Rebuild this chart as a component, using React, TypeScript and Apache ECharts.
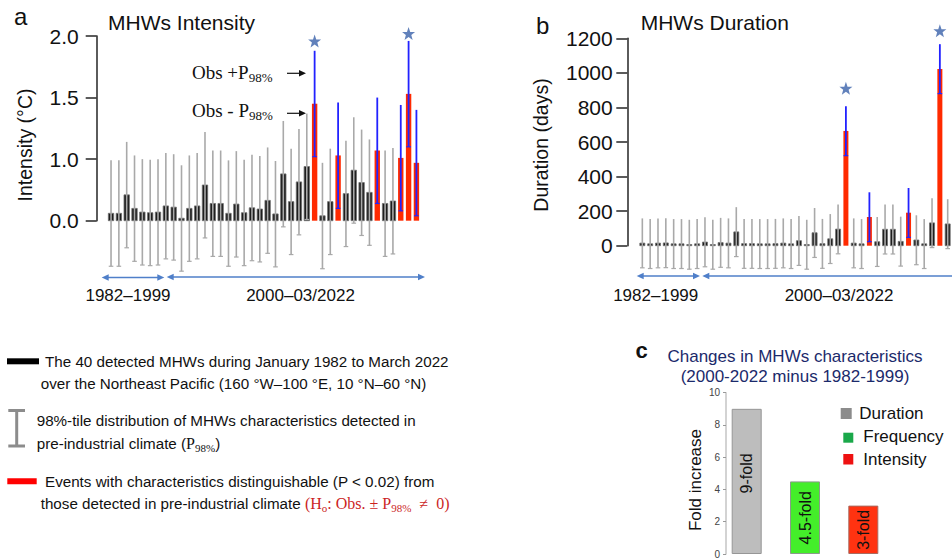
import React, { useEffect, useRef } from "react";
import * as echarts from "echarts";

// ---------- data ----------
const intensityValues = [
  0.56, 0.56, 0.71, 0.6, 0.57, 0.565, 0.57, 0.62, 0.61, 0.52,
  0.6, 0.62, 0.79, 0.64, 0.64, 0.56, 0.635, 0.565, 0.605, 0.595,
  0.665, 0.555, 0.88, 0.655, 0.815, 0.94, 1.45, 0.54, 0.655, 1.03,
  0.72, 0.91, 0.81, 0.73, 1.07, 0.64, 0.66, 1.01, 1.53, 0.97,
];
const intensitySignificant = [26, 29, 34, 37, 38, 39];
const intensityP98 = 0.43;
const intensityStarIdx = [26, 38];
const intensityStarVal = [1.96, 2.02];
const intensityTickValues = [0.5, 1.0, 1.5, 2.0];
const intensityTickLabels = ["0.0", "1.0", "1.5", "2.0"];

const durationValues = [
  15, 11, 15, 16, 11, 11, 7, 11, 21, 7,
  18, 15, 80, 12, 12, 11, 11, 12, 15, 11,
  29, 7, 75, 12, 40, 96, 664, 15, 11, 166,
  23, 95, 95, 25, 191, 33, 11, 132, 1023, 126,
];
const durationSignificant = [26, 29, 34, 38];
const durationP98 = 143;
const durationStarIdx = [26, 38];
const durationStarVal = [911, 1244];

const foldCategories = ["Duration", "Frequency", "Intensity"];
const foldValues = [9, 4.5, 3];
const foldLabels = ["9-fold", "4.5-fold", "3-fold"];
const periodLabels = ["1982–1999", "2000–03/2022"];

// ---------- styles ----------
const SANS = "'Liberation Sans', Arial, Helvetica, sans-serif";
const SERIF = "'Liberation Serif', 'Times New Roman', serif";
const RED = "#ff2a00";
const BLACK = "#1e1e1e";
const BLUE = "#2222ff";
const GRAY = "#a9a9a9";
const ARROW = "#4f7fc9";
const STAR = "path://M12 0 L15 9 L24 9 L17 14.5 L19.5 23.5 L12 18 L4.5 23.5 L7 14.5 L0 9 L9 9 Z";
const LEGEND_SIZE = 15.2;

const makeRender = (baseline: number, p: number, barW: number) => (params: any, api: any) => {
  const x = api.value(0);
  const v = api.value(1);
  const sig = api.value(2) === 1;
  const top = api.coord([x, v]);
  const base = api.coord([x, baseline]);
  const hi = api.coord([x, v + p]);
  const lo = api.coord([x, v - p]);
  const cx = top[0];
  const col = sig ? BLUE : GRAY;
  return {
    type: "group",
    children: [
      {
        type: "rect",
        shape: { x: cx - barW / 2, y: top[1], width: barW, height: base[1] - top[1] },
        style: sig ? { fill: RED } : { fill: BLACK, stroke: "#707070", lineWidth: 0.8 },
      },
      {
        type: "line",
        shape: { x1: cx, y1: hi[1], x2: cx, y2: lo[1] },
        style: { stroke: col, lineWidth: sig ? 1.8 : 1.6 },
      },
      {
        type: "line",
        shape: { x1: cx - 2.3, y1: lo[1], x2: cx + 2.3, y2: lo[1] },
        style: { stroke: col, lineWidth: 1.2 },
      },
    ],
  };
};

const txt = (x: number, y: number, text: string, size: number, extra: any = {}) => ({
  type: "text",
  x,
  y,
  rotation: extra.rotation || 0,
  style: {
    text,
    fill: extra.fill || "#111",
    fontFamily: extra.family || SANS,
    fontSize: size,
    fontWeight: extra.weight || "normal",
    align: extra.align || "left",
    verticalAlign: "middle",
    rich: extra.rich,
  },
});

const head = (x: number, y: number, dir: number, color: string) => ({
  type: "polygon",
  shape: { points: [[x, y], [x - dir * 7, y - 3.2], [x - dir * 7, y + 3.2]] },
  style: { fill: color },
});

const arrow = (x1: number, x2: number, y: number, hl: boolean, hr: boolean, color = ARROW, w = 1.3) => {
  const els: any[] = [
    { type: "line", shape: { x1: x1 + (hl ? 5 : 0), y1: y, x2: x2 - (hr ? 5 : 0), y2: y }, style: { stroke: color, lineWidth: w } },
  ];
  if (hl) els.push(head(x1, y, -1, color));
  if (hr) els.push(head(x2, y, 1, color));
  return els;
};

const subRich = (mainSize: number, subSize: number, family: string, color = "#111") => ({
  m: { fontSize: mainSize, fontFamily: family, fill: color, lineHeight: mainSize + 4, verticalAlign: "middle" },
  s: { fontSize: subSize, fontFamily: family, fill: color, lineHeight: subSize, verticalAlign: "bottom" },
  n: { fontSize: LEGEND_SIZE, fontFamily: SANS, fill: "#111", lineHeight: 20, verticalAlign: "middle" },
});

export default function App() {
  const ref = useRef<HTMLDivElement>(null);
  useEffect(() => {
    document.body.style.margin = "0";
    if (!ref.current) return;
    const chart = echarts.init(ref.current, undefined, { renderer: "svg" });

    const dataA = intensityValues.map((v, i) => [i, v, intensitySignificant.includes(i) ? 1 : 0]);
    const dataB = durationValues.map((v, i) => [i, v, durationSignificant.includes(i) ? 1 : 0]);
    const starsA = intensityStarIdx.map((i, k) => [i, intensityStarVal[k]]);
    const starsB = durationStarIdx.map((i, k) => [i, durationStarVal[k]]);
    const foldColors = [
      { color: "#bdbdbd", borderColor: "#969696" },
      { color: "#44ee2a", borderColor: "#8a9a8a" },
      { color: "#ff3311", borderColor: "#a86a60" },
    ];

    const yBase = {
      axisLine: { show: true, onZero: false, lineStyle: { color: "#333", width: 1.6 } },
      axisTick: { show: true, length: 11, lineStyle: { color: "#333", width: 1.6 } },
      splitLine: { show: false },
    };

    const graphic: any[] = [
      // panel letters and titles
      txt(14, 16, "a", 24),
      txt(108, 22.5, "MHWs Intensity", 21),
      txt(536, 25, "b", 24),
      txt(640.7, 22.5, "MHWs Duration", 21),
      // axis names
      txt(25, 145, "Intensity (°C)", 19.5, { rotation: Math.PI / 2, align: "center" }),
      txt(541, 145, "Duration (days)", 19.5, { rotation: Math.PI / 2, align: "center" }),
      txt(695, 480, "Fold increase", 17, { rotation: Math.PI / 2, align: "center" }),
      // Obs annotations
      txt(192, 72, "{m|Obs +P}{s|98%}", 19, { rich: subRich(19, 13, SERIF) }),
      txt(192, 110, "{m|Obs - P}{s|98%}", 19, { rich: subRich(19, 13, SERIF) }),
      ...arrow(287, 306, 73.3, false, true, "#111", 1.2),
      ...arrow(287, 306, 113.3, false, true, "#111", 1.2),
      // period arrows a
      ...arrow(101.7, 164.3, 277.5, true, true),
      ...arrow(166.7, 425, 277, true, true),
      txt(128, 295, periodLabels[0], 17, { align: "center" }),
      txt(300.5, 295, periodLabels[1], 17, { align: "center" }),
      // period arrows b
      ...arrow(636.7, 700, 276, true, true),
      ...arrow(702.3, 952, 276, true, false),
      txt(655.7, 295, periodLabels[0], 17, { align: "center" }),
      txt(839, 295, periodLabels[1], 17, { align: "center" }),
      // bottom-left legend
      { type: "rect", shape: { x: 7, y: 358.3, width: 32, height: 6 }, style: { fill: "#000" } },
      txt(45, 361.7, "The 40 detected MHWs during January 1982 to March 2022", LEGEND_SIZE),
      txt(40.7, 383.3, "over the Northeast Pacific (160 °W–100 °E, 10 °N–60 °N)", LEGEND_SIZE),
      { type: "line", shape: { x1: 16.7, y1: 409.5, x2: 16.7, y2: 447 }, style: { stroke: "#8c8c8c", lineWidth: 3 } },
      { type: "line", shape: { x1: 8.3, y1: 410.5, x2: 25, y2: 410.5 }, style: { stroke: "#8c8c8c", lineWidth: 3 } },
      { type: "line", shape: { x1: 8.3, y1: 446, x2: 25, y2: 446 }, style: { stroke: "#8c8c8c", lineWidth: 3 } },
      txt(36.7, 420.7, "98%-tile distribution of MHWs characteristics detected in", LEGEND_SIZE),
      txt(36.7, 443.3, "{n|pre-industrial climate (}{m|P}{s|98%}{n|)}", LEGEND_SIZE, { rich: subRich(16, 11, SERIF) }),
      { type: "rect", shape: { x: 7.3, y: 478.3, width: 29.4, height: 6 }, style: { fill: "#ff0000" } },
      txt(45, 481, "Events with characteristics distinguishable (P < 0.02) from", LEGEND_SIZE),
      txt(
        40.7,
        503.3,
        "{n|those detected in pre-industrial climate }{m|(H}{s|o}{m|: Obs. ± P}{s|98%}{m|  ≠  0)}",
        LEGEND_SIZE,
        { rich: subRich(16, 11, SERIF, "#cc1f1f") }
      ),
      // panel c
      txt(635.5, 350, "c", 22, { weight: "bold" }),
      txt(795, 356.7, "Changes in MHWs characteristics", 17, { align: "center", fill: "#1b2a6b" }),
      txt(795, 376.7, "(2000-2022 minus 1982-1999)", 17, { align: "center", fill: "#1b2a6b" }),
      { type: "rect", shape: { x: 840.7, y: 408, width: 11, height: 11 }, style: { fill: "#8c8c8c" } },
      txt(859.3, 413, foldCategories[0], 17),
      { type: "rect", shape: { x: 843.3, y: 432.7, width: 10, height: 10 }, style: { fill: "#1aa84a" } },
      txt(863.3, 436.5, foldCategories[1], 17),
      { type: "rect", shape: { x: 843.3, y: 454, width: 10, height: 10.5 }, style: { fill: "#ee1111" } },
      txt(863.3, 459, foldCategories[2], 17),
    ];

    chart.setOption({
      animation: false,
      grid: [
        { left: 96.7, top: 36, width: 329.9, height: 184.7 },
        { left: 627.3, top: 38.3, width: 324.7, height: 207.4 },
        { left: 726, top: 392.7, width: 172.3, height: 163 },
      ],
      xAxis: [
        { gridIndex: 0, type: "value", min: -1.83, max: 40.3, show: false },
        { gridIndex: 1, type: "value", min: -1.92, max: 39.55, show: false },
        { gridIndex: 2, type: "value", min: -0.355, max: 2.6, show: false },
      ],
      yAxis: [
        {
          gridIndex: 0,
          type: "value",
          min: 0.5,
          max: 2.0,
          interval: 0.5,
          ...yBase,
          axisLabel: {
            fontSize: 21,
            fontFamily: SANS,
            color: "#111",
            margin: 18,
            formatter: (v: number) => {
              const k = intensityTickValues.findIndex((t) => Math.abs(t - v) < 1e-6);
              return k >= 0 ? intensityTickLabels[k] : "";
            },
          },
        },
        {
          gridIndex: 1,
          type: "value",
          min: 0,
          max: 1200,
          interval: 200,
          ...yBase,
          axisLabel: {
            fontSize: 21,
            fontFamily: SANS,
            color: "#111",
            margin: 14.6,
            formatter: (v: number) => String(v),
          },
        },
        {
          gridIndex: 2,
          type: "value",
          min: 0,
          max: 10,
          interval: 2,
          axisLine: { show: true, onZero: false, lineStyle: { color: "#c4c4c4", width: 1.5 } },
          axisTick: { show: true, length: 3, lineStyle: { color: "#999", width: 1 } },
          splitLine: { show: false },
          axisLabel: { fontSize: 10, fontFamily: SANS, color: "#444", margin: 6 },
        },
      ],
      series: [
        {
          type: "custom",
          xAxisIndex: 0,
          yAxisIndex: 0,
          clip: false,
          encode: { x: 0, y: 1 },
          data: dataA,
          renderItem: makeRender(0.5, intensityP98, 5.4),
        },
        {
          type: "scatter",
          xAxisIndex: 0,
          yAxisIndex: 0,
          clip: false,
          symbol: STAR,
          symbolSize: 13,
          itemStyle: { color: "#3a62aa" },
          data: starsA,
        },
        {
          type: "custom",
          xAxisIndex: 1,
          yAxisIndex: 1,
          clip: false,
          encode: { x: 0, y: 1 },
          data: dataB,
          renderItem: makeRender(0, durationP98, 5),
        },
        {
          type: "scatter",
          xAxisIndex: 1,
          yAxisIndex: 1,
          clip: false,
          symbol: STAR,
          symbolSize: 13,
          itemStyle: { color: "#3a62aa" },
          data: starsB,
        },
        {
          type: "bar",
          xAxisIndex: 2,
          yAxisIndex: 2,
          barWidth: 30,
          data: foldValues.map((v, i) => ({
            value: [i, v],
            itemStyle: { ...foldColors[i], borderWidth: 1 },
            label: i === 0 ? { offset: [8, 0] } : undefined,
          })),
          label: {
            show: true,
            position: "inside",
            rotate: 90,
            fontSize: 16,
            fontFamily: SANS,
            color: "#111",
            formatter: (p: any) => foldLabels[p.dataIndex],
          },
        },
      ],
      graphic,
    });
    return () => chart.dispose();
  }, []);
  return <div ref={ref} style={{ width: 952, height: 559 }} />;
}
